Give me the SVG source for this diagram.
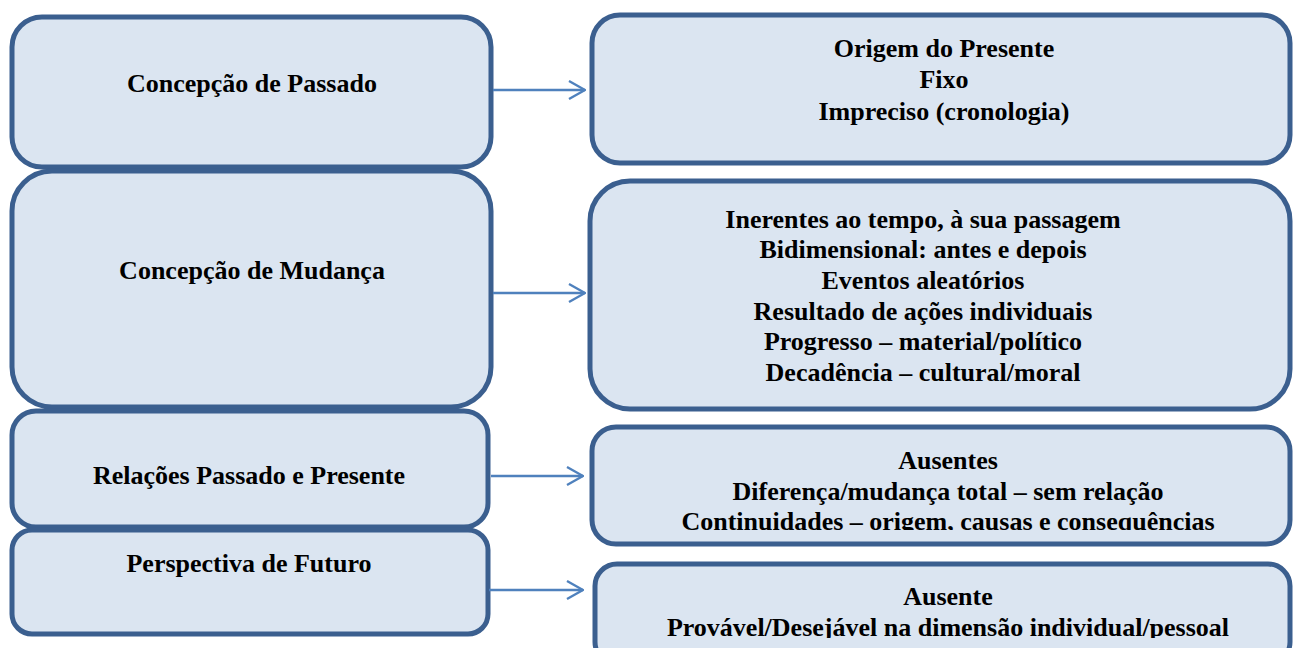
<svg xmlns="http://www.w3.org/2000/svg" width="1293" height="648" viewBox="0 0 1293 648">
<defs>
<style>
.box{fill:#dbe5f1;stroke:#3b5f8f;stroke-width:5}
text{font-family:'Liberation Serif','DejaVu Serif',serif;font-weight:700;font-size:26px;fill:#000;text-anchor:middle}
.c{fill:none;stroke:#4f81bd;stroke-width:2.4}
</style>
<marker id="ah" viewBox="0 0 20 22" refX="19" refY="11" markerWidth="20" markerHeight="22" markerUnits="userSpaceOnUse" orient="auto">
<path d="M3,2 L19,11 L3,20" fill="none" stroke="#4f81bd" stroke-width="2.4"/>
</marker>
<clipPath id="clipR3"><rect x="590" y="420" width="703" height="110"/></clipPath>
<clipPath id="clipR4"><rect x="590" y="560" width="703" height="78"/></clipPath>
</defs>
<rect width="1293" height="648" fill="#fff"/>
<g id="n-passado">
<rect class="box" x="12" y="17" width="479" height="150" rx="30"/>
<text font-family="Liberation Serif, serif" x="252" y="92">Concepção de Passado</text>
</g>
<g id="n-mudanca">
<rect class="box" x="12" y="171" width="479" height="236" rx="40"/>
<text font-family="Liberation Serif, serif" x="252" y="279">Concepção de Mudança</text>
</g>
<g id="n-relacoes">
<rect class="box" x="12" y="411" width="476" height="116" rx="24"/>
<text font-family="Liberation Serif, serif" x="249" y="484">Relações Passado e Presente</text>
</g>
<g id="n-futuro">
<rect class="box" x="12" y="530" width="476" height="104" rx="20"/>
<text font-family="Liberation Serif, serif" x="249" y="572">Perspectiva de Futuro</text>
</g>
<g id="n-r1">
<rect class="box" x="592" y="15" width="698" height="148" rx="28"/>
<text font-family="Liberation Serif, serif" x="944" y="57">Origem do Presente</text>
<text font-family="Liberation Serif, serif" x="944" y="88">Fixo</text>
<text font-family="Liberation Serif, serif" x="944" y="120">Impreciso (cronologia)</text>
</g>
<g id="n-r2">
<rect class="box" x="590" y="181" width="700" height="228" rx="40"/>
<text font-family="Liberation Serif, serif" x="923" y="228">Inerentes ao tempo, à sua passagem</text>
<text font-family="Liberation Serif, serif" x="923" y="258">Bidimensional: antes e depois</text>
<text font-family="Liberation Serif, serif" x="923" y="289">Eventos aleatórios</text>
<text font-family="Liberation Serif, serif" x="923" y="320">Resultado de ações individuais</text>
<text font-family="Liberation Serif, serif" x="923" y="350">Progresso – material/político</text>
<text font-family="Liberation Serif, serif" x="923" y="381">Decadência – cultural/moral</text>
</g>
<g id="n-r3">
<rect class="box" x="592" y="427" width="698" height="117" rx="24"/>
<g clip-path="url(#clipR3)">
<text font-family="Liberation Serif, serif" x="948" y="469">Ausentes</text>
<text font-family="Liberation Serif, serif" x="948" y="500">Diferença/mudança total – sem relação</text>
<text font-family="Liberation Serif, serif" x="948" y="530">Continuidades – origem, causas e consequências</text>
</g>
</g>
<g id="n-r4">
<rect class="box" x="595" y="564" width="695" height="100" rx="22"/>
<g clip-path="url(#clipR4)">
<text font-family="Liberation Serif, serif" x="948" y="605">Ausente</text>
<text font-family="Liberation Serif, serif" x="948" y="636">Provável/Desejável na dimensão individual/pessoal</text>
</g>
</g>
<g id="connectors">
<line class="c" x1="493" y1="90" x2="585" y2="90" marker-end="url(#ah)"/>
<line class="c" x1="493" y1="293" x2="585" y2="293" marker-end="url(#ah)"/>
<line class="c" x1="491" y1="476" x2="583" y2="476" marker-end="url(#ah)"/>
<line class="c" x1="489" y1="590" x2="583" y2="590" marker-end="url(#ah)"/>
</g>
</svg>
